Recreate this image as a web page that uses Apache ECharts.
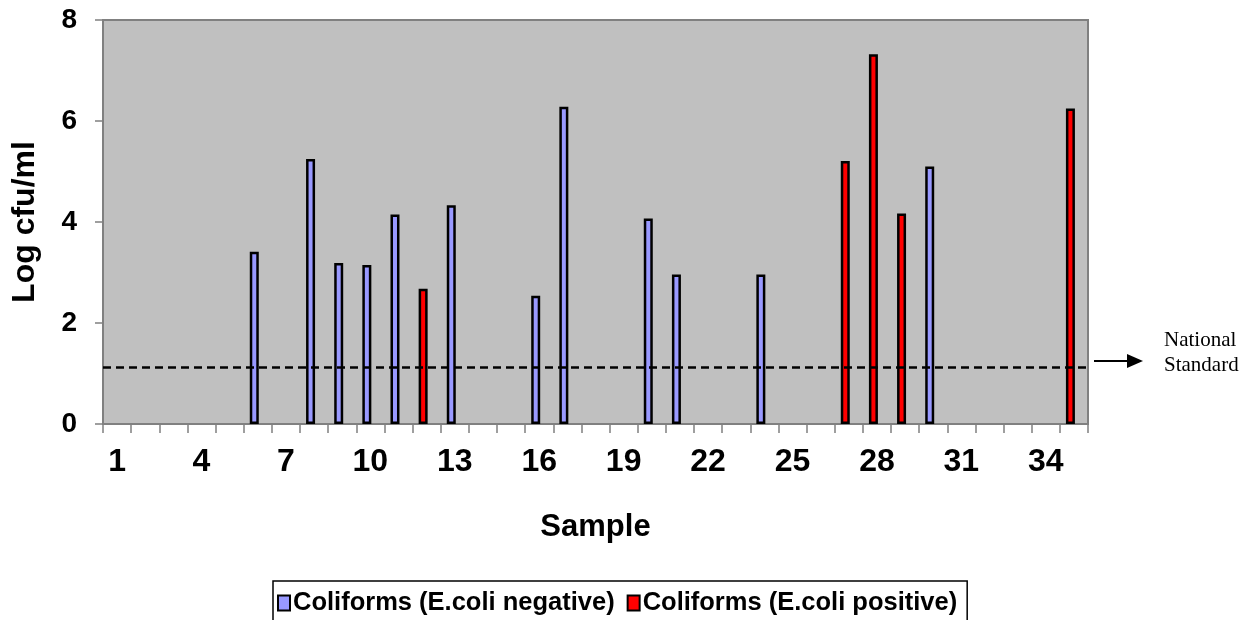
<!DOCTYPE html>
<html>
<head>
<meta charset="utf-8">
<script src="https://cdn.jsdelivr.net/npm/echarts@6/dist/echarts.min.js"></script>
<style>
  html, body { margin: 0; padding: 0; background: #ffffff; }
  #chart { width: 1255px; height: 620px; }
</style>
</head>
<body>
<div id="chart"></div>
<script>
// ---- data ----
const categories = ['1','2','3','4','5','6','7','8','9','10','11','12','13','14','15','16','17','18','19','20','21','22','23','24','25','26','27','28','29','30','31','32','33','34','35'];
const ecoliNegative = ['-','-','-','-','-',3.41,'-',5.25,3.19,3.15,4.15,'-',4.33,'-','-',2.54,6.28,'-','-',4.07,2.96,'-','-',2.96,'-','-','-','-','-',5.10,'-','-','-','-','-'];
const ecoliPositive = ['-','-','-','-','-','-','-','-','-','-','-',2.68,'-','-','-','-','-','-','-','-','-','-','-','-','-','-',5.21,7.32,4.17,'-','-','-','-','-',6.25];
const emptySlot = [];   // unused third cluster slot (as in the original spreadsheet chart)
const seriesNames = ['Coliforms (E.coli negative)', 'Coliforms (E.coli positive)'];
const nationalStandard = 1.13;
const yTicks = { min: 0, max: 8, interval: 2 };

const FONT = '"Liberation Sans", Arial, sans-serif';
const chart = echarts.init(document.getElementById('chart'), null, { renderer: 'canvas' });

const GRID = { left: 103, right: 167, top: 20, bottom: 196 };
const BAR_W = 9;
const BAR_GAP = '-22%';

const option = {
  animation: false,
  backgroundColor: '#ffffff',
  grid: {
    left: GRID.left, right: GRID.right, top: GRID.top, bottom: GRID.bottom,
    show: true, backgroundColor: '#C0C0C0', borderColor: '#808080', borderWidth: 2
  },
  legend: {
    data: seriesNames,
    left: 273, top: 581,
    orient: 'horizontal',
    selectedMode: false,
    icon: 'rect',
    itemWidth: 12, itemHeight: 15,
    itemGap: 12,
    padding: [9, 10, 9, 4],
    backgroundColor: '#ffffff',
    borderColor: '#000000', borderWidth: 1.5, borderRadius: 0,
    textStyle: { fontFamily: FONT, fontWeight: 'bold', fontSize: 25.5, color: '#000', padding: [0, 0, 0, -2] }
  },
  xAxis: {
    type: 'category',
    data: categories,
    boundaryGap: true,
    name: 'Sample',
    nameLocation: 'middle',
    nameGap: 88,
    nameTextStyle: { fontFamily: FONT, fontWeight: 'bold', fontSize: 31, color: '#000' },
    axisLine: { lineStyle: { color: '#808080', width: 2 } },
    axisTick: { show: true, interval: 0, length: 9, lineStyle: { color: '#808080', width: 1.5 } },
    axisLabel: { interval: 2, margin: 22, fontFamily: FONT, fontWeight: 'bold', fontSize: 32, color: '#000' },
    splitLine: { show: false }
  },
  yAxis: {
    type: 'value',
    min: yTicks.min, max: yTicks.max, interval: yTicks.interval,
    name: 'Log cfu/ml',
    nameLocation: 'middle',
    nameGap: 62,
    nameRotate: 90,
    nameTextStyle: { fontFamily: FONT, fontWeight: 'bold', fontSize: 32, color: '#000' },
    axisLine: { show: true, lineStyle: { color: '#808080', width: 2 } },
    axisTick: { show: true, length: 8, lineStyle: { color: '#808080', width: 1.5 } },
    axisLabel: { margin: 26, fontFamily: FONT, fontWeight: 'bold', fontSize: 28, color: '#000' },
    splitLine: { show: false }
  },
  series: [
    {
      name: seriesNames[0],
      type: 'bar',
      stack: 'coliforms',
      data: ecoliNegative,
      barWidth: BAR_W,
      barGap: BAR_GAP,
      itemStyle: { color: '#9999FF', borderColor: '#000000', borderWidth: 2.5 },
      markLine: {
        silent: true,
        symbol: ['none', 'none'],
        label: { show: false },
        lineStyle: { color: '#000000', width: 2.5, type: [8, 5] },
        data: [{ yAxis: nationalStandard }]
      }
    },
    {
      name: seriesNames[1],
      type: 'bar',
      stack: 'coliforms',
      data: ecoliPositive,
      barWidth: BAR_W,
      barGap: BAR_GAP,
      itemStyle: { color: '#FF0000', borderColor: '#000000', borderWidth: 2.5 }
    },
    {
      name: 'slot',
      type: 'bar',
      stack: 'slot',
      data: emptySlot,
      barWidth: BAR_W,
      barGap: BAR_GAP,
      silent: true
    }
  ]
};
chart.setOption(option);

// Annotation: arrow + "National Standard" label positioned from the y scale
const yStd = chart.convertToPixel({ yAxisIndex: 0 }, nationalStandard);
const arrowY = yStd - 6;
chart.setOption({
  graphic: [
    { type: 'line', shape: { x1: 1094, y1: arrowY, x2: 1130, y2: arrowY }, style: { stroke: '#000', lineWidth: 2 } },
    { type: 'polygon', shape: { points: [[1127, arrowY - 7], [1143, arrowY], [1127, arrowY + 7]] }, style: { fill: '#000' } },
    { type: 'text', left: 1164, top: arrowY - 33,
      style: { text: 'National\nStandard', fill: '#000', font: '21px "Liberation Serif", "Times New Roman", serif', lineHeight: 25 } }
  ]
});
</script>
</body>
</html>
